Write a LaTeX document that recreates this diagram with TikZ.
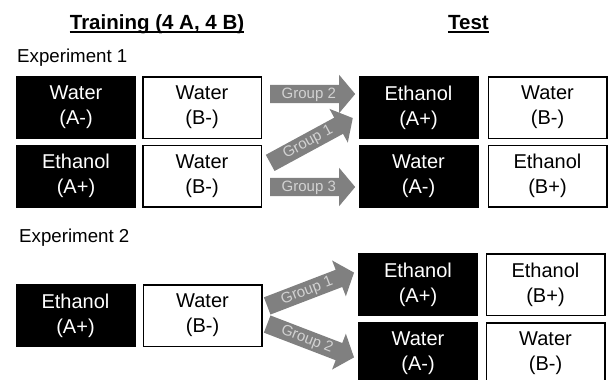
\documentclass[tikz,border=0pt]{standalone}
\usepackage{fontspec}
\setmainfont{Liberation Sans}
\usetikzlibrary{shapes.arrows}

\definecolor{arrowgray}{HTML}{808080}
\definecolor{labelgray}{HTML}{D2D2D2}

\begin{document}
\begin{tikzpicture}[x=1pt, y=-1pt,
    cell/.style={minimum width=120pt, minimum height=63pt, align=center, inner sep=0pt, font=\fontsize{20}{25}\selectfont},
    darkcell/.style={cell, fill=black, text=white},
    lightcell/.style={cell, draw=black, line width=1.5pt, fill=white, minimum width=118.5pt, minimum height=61.5pt},
    grouparrow/.style={single arrow, fill=arrowgray, text=labelgray, font=\fontsize{15}{15}\selectfont,
      single arrow head extend=10pt, single arrow tip angle=100, inner xsep=3pt, inner ysep=2pt,
      text height=11pt, text depth=3pt, anchor=tail},
    heading/.style={font=\fontsize{20.5}{24}\selectfont\bfseries, inner sep=0pt, anchor=base},
    exptag/.style={font=\fontsize{18.7}{22}\selectfont, inner sep=0pt, anchor=base west}]
      \useasboundingbox (0,0) rectangle (608,380);

      % Column headings
      \node[heading] (htrain) at (157,29) {Training (4 A, 4 B)};
      \node[heading] (htest) at (468.5,29) {Test};
      \draw[line width=1.5pt] ([yshift=-3pt]htrain.base west) -- ([yshift=-3pt]htrain.base east);
      \draw[line width=1.5pt] ([yshift=-3pt]htest.base west) -- ([yshift=-3pt]htest.base east);

      % Experiment 1
      \node[exptag] (exp1) at (17,62) {Experiment 1};
      \node[darkcell] (oneA1) at (76,107.5) {Water\\(A-)};
      \node[lightcell] (oneB1) at (202,107.5) {Water\\(B-)};
      \node[darkcell] (oneA2) at (76,176) {Ethanol\\(A+)};
      \node[lightcell] (oneB2) at (202,176) {Water\\(B-)};
      \node[darkcell] (oneTA1) at (418.5,107.5) {Ethanol\\(A+)};
      \node[lightcell] (oneTB1) at (547.5,107.5) {Water\\(B-)};
      \node[darkcell] (oneTA2) at (418.5,176) {Water\\(A-)};
      \node[lightcell] (oneTB2) at (547.5,176) {Ethanol\\(B+)};

      % Group arrows, experiment 1
      \node[grouparrow, minimum height=85pt] (onegtwo) at (270,94) {Group 2};
      \node[grouparrow, minimum height=94pt, rotate=28.5] (onegone) at (270,163) {Group 1};
      \node[grouparrow, minimum height=85pt] (onegthree) at (270,187) {Group 3};

      % Experiment 2
      \node[exptag] (exp2) at (19,242) {Experiment 2};
      \node[darkcell] (twoA) at (75.5,315.5) {Ethanol\\(A+)};
      \node[lightcell] (twoB) at (202.5,315.5) {Water\\(B-)};
      \node[darkcell] (twoTA1) at (418,284.5) {Ethanol\\(A+)};
      \node[lightcell] (twoTB1) at (545.5,284.5) {Ethanol\\(B+)};
      \node[darkcell] (twoTA2) at (418,353.5) {Water\\(A-)};
      \node[lightcell] (twoTB2) at (545.5,353.5) {Water\\(B-)};

      % Group arrows, experiment 2
      \node[grouparrow, minimum height=93pt, rotate=21] (twogone) at (267,306) {Group 1};
      \node[grouparrow, minimum height=93pt, rotate=-21] (twogtwo) at (267,324) {Group 2};
    \end{tikzpicture}
\end{document}
